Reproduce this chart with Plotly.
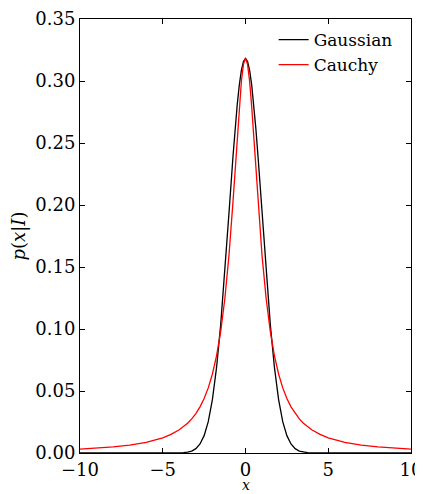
import plotly.graph_objects as go

x_vals = [-10, -9, -8, -7, -6, -5, -4.5, -4, -3.75, -3.5, -3.25, -3, -2.75, -2.5, -2.25, -2,
          -1.75, -1.5, -1.25, -1, -0.75, -0.625, -0.5, -0.375, -0.25, -0.125, 0,
          0.125, 0.25, 0.375, 0.5, 0.625, 0.75, 1, 1.25, 1.5, 1.75,
          2, 2.25, 2.5, 2.75, 3, 3.25, 3.5, 3.75, 4, 4.5, 5, 6, 7, 8, 9, 10]

gaussian = [0, 0, 0, 0, 0, 0, 0, 0.0001, 0.0003, 0.0007, 0.0016, 0.0035, 0.0073, 0.0140,
            0.0253, 0.0431, 0.0688, 0.1033, 0.1457, 0.1931, 0.2403, 0.2618, 0.2809, 0.2967,
            0.3085, 0.3158, 0.3183,
            0.3158, 0.3085, 0.2967, 0.2809, 0.2618, 0.2403, 0.1931, 0.1457, 0.1033, 0.0688,
            0.0431, 0.0253, 0.0140, 0.0073, 0.0035, 0.0016, 0.0007, 0.0003, 0.0001, 0, 0,
            0, 0, 0, 0, 0]

cauchy = [0.0032, 0.0039, 0.0049, 0.0064, 0.0086, 0.0122, 0.0150, 0.0187, 0.0211, 0.0240, 0.0275,
          0.0318, 0.0372, 0.0439, 0.0525, 0.0637, 0.0784, 0.0979, 0.1242, 0.1592, 0.2037, 0.2289,
          0.2546, 0.2791, 0.2996, 0.3134, 0.3183,
          0.3134, 0.2996, 0.2791, 0.2546, 0.2289, 0.2037, 0.1592, 0.1242, 0.0979, 0.0784,
          0.0637, 0.0525, 0.0439, 0.0372, 0.0318, 0.0275, 0.0240, 0.0211, 0.0187, 0.0150, 0.0122,
          0.0086, 0.0064, 0.0049, 0.0039, 0.0032]

x_ticks = [-10, -5, 0, 5, 10]
y_ticks = [0.00, 0.05, 0.10, 0.15, 0.20, 0.25, 0.30, 0.35]

font_family = "DejaVu Serif"

fig = go.Figure()
fig.add_trace(go.Scatter(x=x_vals, y=gaussian, mode="lines", name="Gaussian",
                         line=dict(color="black", width=1.3)))
fig.add_trace(go.Scatter(x=x_vals, y=cauchy, mode="lines", name="Cauchy",
                         line=dict(color="red", width=1.3)))

axis_common = dict(showline=True, linecolor="black", linewidth=1, mirror="ticks",
                   ticks="inside", ticklen=5, tickcolor="black", showgrid=False,
                   zeroline=False, automargin=False,
                   tickfont=dict(family=font_family, size=18, color="black"))

# the page body has an 8px margin, so the figure is sized to fit the 423x494 window
fig.update_layout(
    width=415, height=486,
    margin=dict(l=72, r=12, t=11, b=41),
    paper_bgcolor="white", plot_bgcolor="white",
    font=dict(family=font_family, size=17, color="black"),
    xaxis=dict(range=[-10, 10], tickvals=x_ticks,
               ticktext=[str(v).replace("-", "\u2212") for v in x_ticks], **axis_common),
    yaxis=dict(range=[0, 0.35], tickvals=y_ticks, ticktext=[f"{v:.2f}" for v in y_ticks],
               title=dict(text="<i>p</i>(<i>x</i>|<i>I</i>)", font=dict(size=18), standoff=6),
               **axis_common),
    legend=dict(x=0.585, y=0.993, xanchor="left", yanchor="top", bgcolor="rgba(0,0,0,0)",
                font=dict(family=font_family, size=17), tracegroupgap=0),
    showlegend=True,
    annotations=[dict(text="<i>x</i>", xref="paper", yref="paper", x=0.5, y=0,
                      xanchor="center", yanchor="top", yshift=-22, showarrow=False,
                      font=dict(family=font_family, size=14, color="black"))],
)

fig.write_html("out.html")
